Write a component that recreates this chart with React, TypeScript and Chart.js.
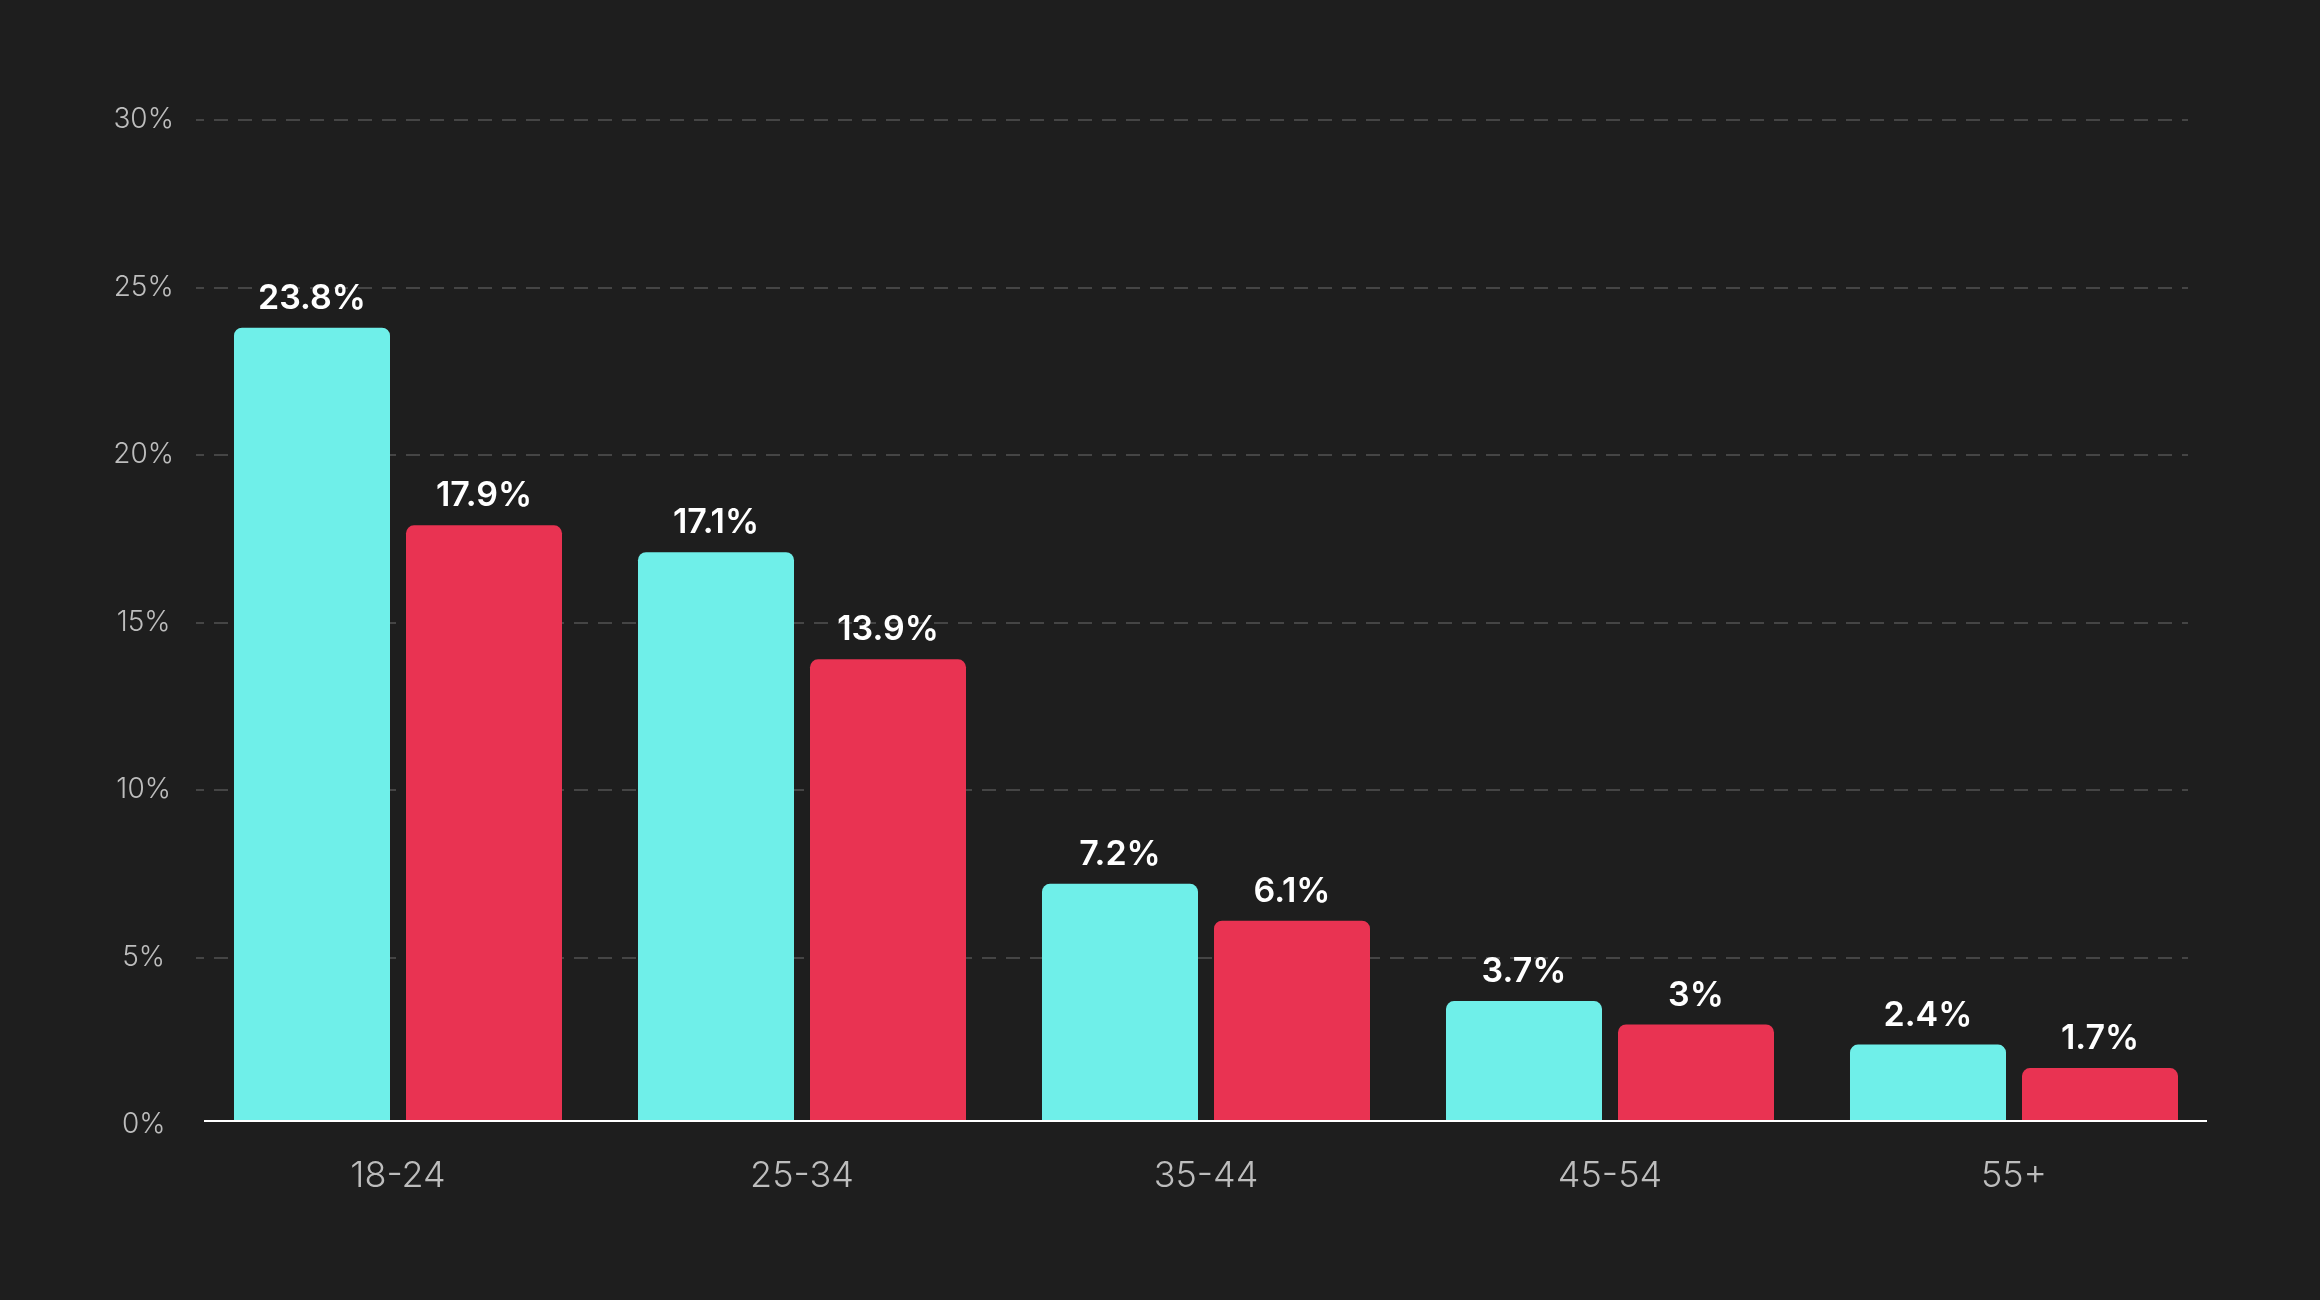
import { useEffect, useRef } from "react";
import { Chart, registerables } from "chart.js";

Chart.register(...registerables);

const categories = ["18-24", "25-34", "35-44", "45-54", "55+"];
const seriesCyan = [23.8, 17.1, 7.2, 3.7, 2.4];
const seriesRed = [17.9, 13.9, 6.1, 3, 1.7];
const yMin = 0;
const yMax = 30;
const yStep = 5;

const BG = "#1e1e1e";
const CYAN = "#6fefe9";
const RED = "#e93352";
const FONT = "Inter, 'Noto Sans', sans-serif";

const gridPlugin = {
  id: "dashedGrid",
  beforeDatasetsDraw(chart: any) {
    const { ctx, chartArea, scales } = chart;
    const y = scales.y;
    ctx.save();
    ctx.strokeStyle = "#454545";
    ctx.lineWidth = 2;
    ctx.setLineDash([14, 10]);
    ctx.lineDashOffset = 6;
    y.ticks.forEach((t: any) => {
      if (t.value === 0) return;
      const py = Math.round(y.getPixelForValue(t.value));
      ctx.beginPath();
      ctx.moveTo(chartArea.left, py);
      ctx.lineTo(chartArea.right - 28, py);
      ctx.stroke();
    });
    ctx.restore();
  },
};

const axisAndLabelsPlugin = {
  id: "axisAndLabels",
  afterDatasetsDraw(chart: any) {
    const { ctx, chartArea } = chart;
    ctx.save();
    ctx.fillStyle = BG;
    ctx.fillRect(chartArea.left, chartArea.bottom - 3, chartArea.right - chartArea.left, 5);
    ctx.fillStyle = "#ffffff";
    ctx.fillRect(chartArea.left + 8, chartArea.bottom - 5, chartArea.right - chartArea.left - 17, 2);
    ctx.font = `600 34px ${FONT}`;
    ctx.textAlign = "center";
    ctx.textBaseline = "alphabetic";
    ctx.fillStyle = "#ffffff";
    chart.data.datasets.forEach((ds: any, i: number) => {
      const meta = chart.getDatasetMeta(i);
      meta.data.forEach((el: any, j: number) => {
        ctx.fillText(`${ds.data[j]}%`, el.x, el.y - 19);
      });
    });
    ctx.restore();
  },
};

export default function App() {
  const ref = useRef<HTMLCanvasElement | null>(null);

  useEffect(() => {
    if (!ref.current) return;
    const chart = new Chart(ref.current, {
      type: "bar",
      data: {
        labels: categories,
        datasets: [
          {
            label: "Cyan",
            data: seriesCyan,
            backgroundColor: CYAN,
            borderRadius: 8,
            borderSkipped: "start",
            categoryPercentage: 0.8515,
            barPercentage: 0.907,
          },
          {
            label: "Red",
            data: seriesRed,
            backgroundColor: RED,
            borderRadius: 8,
            borderSkipped: "start",
            categoryPercentage: 0.8515,
            barPercentage: 0.907,
          },
        ],
      },
      options: {
        responsive: false,
        animation: false,
        devicePixelRatio: 1,
        layout: { padding: { top: 120, right: 104, bottom: 0, left: 0 } },
        plugins: {
          legend: { display: false },
          tooltip: { enabled: false },
          title: { display: false },
        },
        scales: {
          x: {
            grid: { display: false, drawTicks: false },
            border: { display: false },
            ticks: {
              color: "#bdbdbd",
              font: { family: FONT, size: 36, weight: "300" as any },
              padding: 30,
            },
            afterFit(scale: any) {
              scale.height = 175;
            },
          },
          y: {
            min: yMin,
            max: yMax,
            grid: { display: false, drawTicks: false },
            border: { display: false },
            ticks: {
              stepSize: yStep,
              color: "#bdbdbd",
              font: { family: FONT, size: 28, weight: "300" as any },
              crossAlign: "center",
              padding: 22,
              callback: (v: any) => `${v}%`,
            },
            afterFit(scale: any) {
              scale.width = 196;
            },
          },
        },
      },
      plugins: [gridPlugin, axisAndLabelsPlugin],
    });
    return () => chart.destroy();
  }, []);

  return (
    <div
      style={{
        position: "absolute",
        left: 0,
        top: 0,
        width: 2320,
        height: 1300,
        background: BG,
      }}
    >
      <canvas ref={ref} width={2320} height={1300} style={{ display: "block" }} />
    </div>
  );
}
